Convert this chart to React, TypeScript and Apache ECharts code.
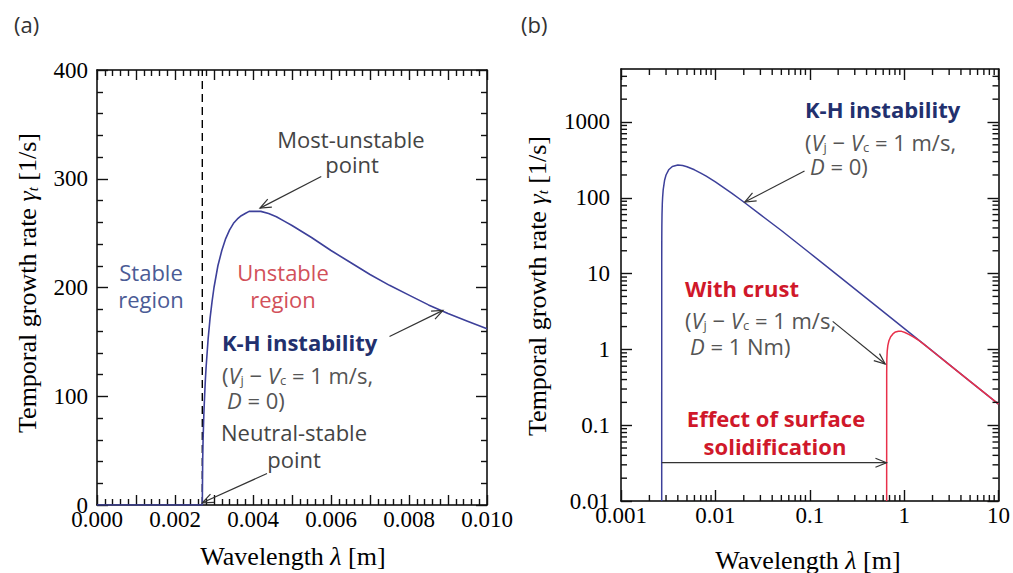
import React, { useEffect, useRef } from "react";
import * as echarts from "echarts";

const SERIF = "'Liberation Serif', 'Times New Roman', serif";
const SANS = "'Open Sans', 'Noto Sans', sans-serif";

const BLUE = "#3d409a";
const RED = "#e8304a";
const NAVY = "#22306e";
const GREY = "#444444";
const CRIMSON = "#d0182a";

// ---------- Panel (a): linear axes ----------
const lambdaA = [
  0, 0.0027, 0.00271, 0.00272, 0.00274, 0.00276, 0.00278, 0.0028, 0.00285, 0.0029,
  0.00295, 0.003, 0.0031, 0.0032, 0.0033, 0.0034, 0.0035, 0.0036, 0.0037, 0.0038,
  0.0039, 0.004, 0.0041, 0.0042, 0.0044, 0.0046, 0.0048, 0.005, 0.0055, 0.006,
  0.0065, 0.007, 0.0075, 0.008, 0.0085, 0.009, 0.0095, 0.01,
];
const gammaA = [
  0, 0, 42, 60, 84, 101, 116, 128, 153, 172,
  187, 200, 220, 234, 245, 253, 259, 263, 266, 268,
  270, 270, 270, 270, 268, 265, 261, 257, 246, 234,
  223, 212, 202, 193, 184, 176, 169, 162,
];
const neutralLambda = 0.0027;
const neutralLine = [0, 400];

// ---------- Panel (b): log axes ----------
const lambdaKH = [
  0.0027, 0.002701, 0.002705, 0.00271, 0.00272, 0.00274, 0.00276, 0.0028, 0.0029, 0.003,
  0.0032, 0.0035, 0.004, 0.0045, 0.005, 0.006, 0.007, 0.008, 0.01, 0.015,
  0.02, 0.03, 0.05, 0.1, 0.2, 0.5, 1, 2, 5, 10,
];
const gammaKH = [
  0.01, 13.5, 30, 42, 60, 84, 101, 128, 172, 200,
  234, 259, 270, 266, 257, 234, 212, 193, 162, 114,
  88, 60, 37, 18.7, 9.4, 3.78, 1.89, 0.947, 0.379, 0.19,
];
const lambdaCrust = [
  0.653, 0.6535, 0.656, 0.662, 0.672, 0.69, 0.72, 0.76, 0.81, 0.87,
  0.94, 1.02, 1.12, 1.25, 1.4, 1.6, 2, 3, 5, 7, 10,
];
const gammaCrust = [
  0.01, 0.5, 0.75, 0.95, 1.12, 1.3, 1.47, 1.6, 1.7, 1.74,
  1.73, 1.67, 1.58, 1.46, 1.34, 1.18, 0.945, 0.631, 0.379, 0.271, 0.19,
];

const xMajorB = [0.001, 0.01, 0.1, 1, 10];
const yMajorB = [0.01, 0.1, 1, 10, 100, 1000];

// annotation arrows, in data coordinates: [start, tip]
const arrowsA = [
  [[0.00575, 302], [0.00418, 273]],
  [[0.0075, 155], [0.00887, 179]],
  [[0.00436, 29], [0.0027, 2]],
];
const arrowsB = [
  [[0.088, 225], [0.0205, 88]],
  [[0.175, 2.34], [0.63, 0.64]],
  [[0.0027, 0.032], [0.65, 0.032]],
];

function minorLog(fromExp: number, toExp: number, maxVal: number) {
  const out: number[] = [];
  for (let e = fromExp; e <= toExp; e++) {
    for (let m = 2; m <= 9; m++) {
      const v = Number((m * Math.pow(10, e)).toPrecision(6));
      if (v < maxVal) out.push(v);
    }
  }
  return out;
}
const xMinorB = minorLog(-3, 0, 10);
const yMinorB = minorLog(-2, 3, 5000);

const zip = (a: number[], b: number[]) => a.map((v, i) => [v, b[i]]);

const lineStyleBlack = { color: "#000", width: 1.5 };
const tickStyle = { color: "#111", width: 1.4 };
const labelStyle = { fontFamily: SERIF, fontSize: 23, color: "#000" };
const fmtLog = (v: number) => String(Number(Number(v).toPrecision(6)));

function linX(pos: string, showLabel: boolean) {
  return {
    type: "value", gridIndex: 0, position: pos, min: 0, max: 0.01, interval: 0.001,
    axisLine: { show: true, onZero: false, lineStyle: lineStyleBlack },
    axisTick: { show: true, inside: true, length: 10, lineStyle: tickStyle },
    minorTick: { show: true, splitNumber: 5, length: 6, lineStyle: tickStyle },
    splitLine: { show: false },
    axisLabel: {
      show: showLabel, ...labelStyle, margin: 3,
      formatter: (v: number) => (Math.round(v * 1000) % 2 === 0 ? v.toFixed(3) : ""),
    },
  };
}
function linY(pos: string, showLabel: boolean) {
  return {
    type: "value", gridIndex: 0, position: pos, min: 0, max: 400, interval: 100,
    axisLine: { show: true, onZero: false, lineStyle: lineStyleBlack },
    axisTick: { show: true, inside: true, length: 11, lineStyle: tickStyle },
    minorTick: { show: true, splitNumber: 5, length: 6, lineStyle: tickStyle },
    splitLine: { show: false },
    axisLabel: { show: showLabel, ...labelStyle, margin: 9 },
  };
}
function logAxis(pos: string, min: number, max: number, values: number[], showLabel: boolean, margin: number) {
  return {
    type: "log", logBase: 10, gridIndex: 1, position: pos, min, max,
    axisLine: { show: true, onZero: false, lineStyle: lineStyleBlack },
    axisTick: { show: true, inside: true, length: 11, lineStyle: tickStyle, customValues: values },
    minorTick: { show: false },
    splitLine: { show: false },
    axisLabel: showLabel
      ? { show: true, ...labelStyle, margin, customValues: values, formatter: fmtLog }
      : { show: false },
  };
}

function buildOption() {
  return {
    animation: false,
    backgroundColor: "#fff",
    grid: [
      { left: 97, top: 70, width: 390, height: 435 },
      { left: 621, top: 69, width: 378, height: 432 },
    ],
    xAxis: [
      linX("bottom", true),
      linX("top", false),
      logAxis("bottom", 0.001, 10, xMajorB, true, 3),
      logAxis("top", 0.001, 10, xMajorB, false, 3),
    ],
    yAxis: [
      linY("left", true),
      linY("right", false),
      logAxis("left", 0.01, 5000, yMajorB, true, 11),
      logAxis("right", 0.01, 5000, yMajorB, false, 11),
    ],
    series: [
      {
        type: "line", xAxisIndex: 0, yAxisIndex: 0, data: zip(lambdaA, gammaA),
        symbol: "none", lineStyle: { color: BLUE, width: 1.6 }, z: 4,
      },
      {
        type: "line", xAxisIndex: 0, yAxisIndex: 0,
        data: neutralLine.map((g) => [neutralLambda, g]),
        symbol: "none", lineStyle: { color: "#000", width: 1.4, type: [8, 5] }, z: 3,
      },
      {
        type: "line", xAxisIndex: 2, yAxisIndex: 2, data: zip(lambdaKH, gammaKH),
        symbol: "none", lineStyle: { color: BLUE, width: 1.5 }, z: 3,
      },
      {
        type: "line", xAxisIndex: 2, yAxisIndex: 2, data: zip(lambdaCrust, gammaCrust),
        symbol: "none", lineStyle: { color: RED, width: 1.5 }, z: 4,
      },
    ],
  };
}

const subRich = (fill: string, size = 22) => ({
  i: { fontStyle: "italic", fontFamily: SANS, fontSize: size, fill, lineHeight: 22 },
  s: { fontFamily: SANS, fontSize: 13, fill, verticalAlign: "bottom", lineHeight: 13 },
});

function text(x: number, y: number, t: string, extra: any = {}) {
  return {
    type: "text", x, y, z: 20,
    style: {
      text: t, fontFamily: SANS, fontSize: 22, fill: GREY,
      align: "left", verticalAlign: "middle", ...extra,
    },
  };
}

function buildTexts() {
  const axisRich = {
    g: { fontStyle: "italic", fontFamily: SERIF, fontSize: 26, fill: "#000" },
    t: { fontStyle: "italic", fontFamily: SERIF, fontSize: 15, fill: "#000", verticalAlign: "bottom", lineHeight: 16 },
  };
  const axisT = (x: number, y: number, t: string, rot: number) => ({
    type: "text", x, y, rotation: rot, z: 20,
    style: {
      text: t, fontFamily: SERIF, fontSize: 26, fill: "#000",
      align: "center", verticalAlign: "middle", rich: axisRich,
    },
  });
  const param1 = "({i|V}{s|j} − {i|V}{s|c} = 1 m/s,";
  const pStyle = { fill: "#555", lineHeight: 22, rich: subRich("#555") };
  return [
    text(14, 24, "(a)", { fill: "#333" }),
    text(521, 24, "(b)", { fill: "#333" }),
    axisT(27, 283, "Temporal growth rate {g|γ}{t|t} [1/s]", Math.PI / 2),
    axisT(537, 286, "Temporal growth rate {g|γ}{t|t} [1/s]", Math.PI / 2),
    axisT(293, 556, "Wavelength {g|λ} [m]", 0),
    axisT(808, 560, "Wavelength {g|λ} [m]", 0),
    // panel (a)
    text(351, 139, "Most-unstable", { align: "center" }),
    text(352, 164, "point", { align: "center" }),
    text(151, 272, "Stable", { align: "center", fill: "#4b5b95" }),
    text(151, 299, "region", { align: "center", fill: "#4b5b95" }),
    text(283, 272, "Unstable", { align: "center", fill: "#d2505a" }),
    text(283, 299, "region", { align: "center", fill: "#d2505a" }),
    text(222, 342, "K-H instability", { fontWeight: "bold", fill: NAVY }),
    text(222, 375, param1, pStyle),
    text(227, 400, "{i|D} = 0)", pStyle),
    text(294, 432, "Neutral-stable", { align: "center" }),
    text(294, 459, "point", { align: "center" }),
    // panel (b)
    text(805, 109, "K-H instability", { fontWeight: "bold", fill: NAVY }),
    text(805, 142, param1, pStyle),
    text(810, 166, "{i|D} = 0)", pStyle),
    text(685, 288, "With crust", { fontWeight: "bold", fill: CRIMSON }),
    text(685, 320, param1, pStyle),
    text(690, 346, "{i|D} = 1 Nm)", pStyle),
    text(776, 418, "Effect of surface", { align: "center", fontWeight: "bold", fill: CRIMSON }),
    text(775, 446, "solidification", { align: "center", fontWeight: "bold", fill: CRIMSON }),
  ];
}

export default function App() {
  const ref = useRef<HTMLDivElement>(null);
  useEffect(() => {
    const chart = echarts.init(ref.current!, null, { renderer: "svg" });
    chart.setOption(buildOption() as any);
    const els: any[] = [];
    const toPx = (seriesIndex: number, p: number[]) =>
      chart.convertToPixel({ seriesIndex }, p) as number[];

    // log-axis minor ticks of panel (b), positioned through the axes' scales
    const tl = toPx(2, [0.001, 5000]);
    const br = toPx(2, [10, 0.01]);
    const ML = 6;
    const tst = { stroke: "#111", lineWidth: 1.4 };
    xMinorB.forEach((v) => {
      const px = toPx(2, [v, 1])[0];
      els.push({ type: "line", z: 12, silent: true, shape: { x1: px, y1: br[1], x2: px, y2: br[1] - ML }, style: tst });
      els.push({ type: "line", z: 12, silent: true, shape: { x1: px, y1: tl[1], x2: px, y2: tl[1] + ML }, style: tst });
    });
    yMinorB.forEach((v) => {
      const py = toPx(2, [1, v])[1];
      els.push({ type: "line", z: 12, silent: true, shape: { x1: tl[0], y1: py, x2: tl[0] + ML, y2: py }, style: tst });
      els.push({ type: "line", z: 12, silent: true, shape: { x1: br[0], y1: py, x2: br[0] - ML, y2: py }, style: tst });
    });

    const addArrows = (list: number[][][], seriesIndex: number) => {
      list.forEach(([s, t]) => {
        const p0 = toPx(seriesIndex, s);
        const p1 = toPx(seriesIndex, t);
        const dx = p1[0] - p0[0];
        const dy = p1[1] - p0[1];
        const len = Math.hypot(dx, dy) || 1;
        const ux = dx / len, uy = dy / len;
        const L = 11, W = 4.5;
        const bx = p1[0] - ux * L, by = p1[1] - uy * L;
        els.push({
          type: "line", z: 15,
          shape: { x1: p0[0], y1: p0[1], x2: p1[0], y2: p1[1] },
          style: { stroke: "#333", lineWidth: 1.2 },
        });
        els.push({
          type: "polyline", z: 15,
          shape: { points: [[bx - uy * W, by + ux * W], [p1[0], p1[1]], [bx + uy * W, by - ux * W]] },
          style: { stroke: "#333", lineWidth: 1.2, fill: "none" },
        });
      });
    };
    addArrows(arrowsA, 0);
    addArrows(arrowsB, 2);
    chart.setOption({ graphic: [...buildTexts(), ...els] } as any);
    return () => chart.dispose();
  }, []);
  return (
    <div
      ref={ref}
      style={{ position: "fixed", left: 0, top: 0, width: 1013, height: 573, background: "#fff" }}
    />
  );
}
